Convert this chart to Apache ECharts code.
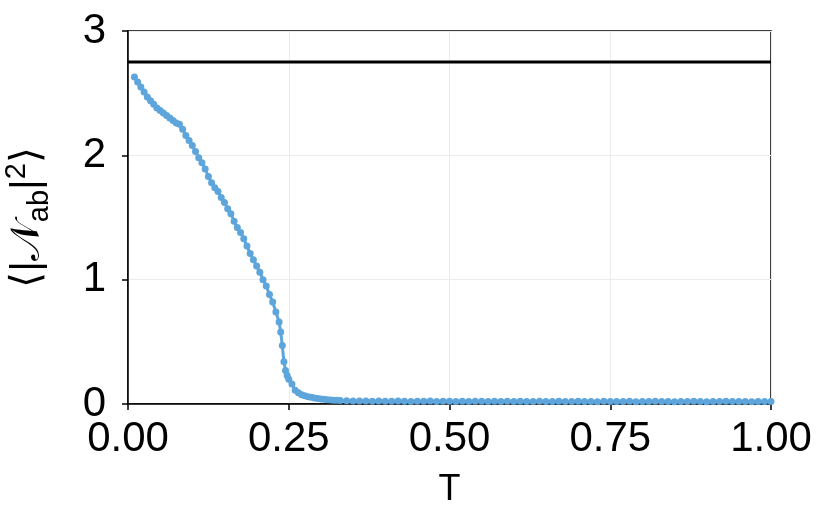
<!DOCTYPE html>
<html>
<head>
<meta charset="utf-8">
<script src="https://cdn.jsdelivr.net/npm/echarts@6/dist/echarts.min.js"></script>
<style>
html,body{margin:0;padding:0;background:#fff;}
#chart{width:830px;height:523px;}
</style>
</head>
<body>
<div id="chart"></div>
<script>
const temperature = [0.010,0.015,0.020,0.025,0.030,0.035,0.040,0.045,0.050,0.055,
  0.060,0.065,0.070,0.075,0.080,0.085,0.090,0.095,0.100,0.105,
  0.110,0.115,0.120,0.125,0.130,0.135,0.140,0.145,0.150,0.155,
  0.160,0.165,0.170,0.175,0.180,0.185,0.190,0.195,0.200,0.205,
  0.210,0.215,0.220,0.225,0.230,0.235,
  0.2375,0.240,0.2425,0.245,0.2475,0.250,
  0.255,0.260,0.265,0.270,0.275,0.280,0.285,0.290,0.295,0.300,0.305,0.310,0.315,0.320,0.325,0.330,
  0.340,0.350,
  0.36,0.37,0.38,0.39,0.40,0.41,0.42,0.43,0.44,0.45,
  0.46,0.47,0.48,0.49,0.50,0.51,0.52,0.53,0.54,0.55,
  0.56,0.57,0.58,0.59,0.60,0.61,0.62,0.63,0.64,0.65,
  0.66,0.67,0.68,0.69,0.70,0.71,0.72,0.73,0.74,0.75,
  0.76,0.77,0.78,0.79,0.80,0.81,0.82,0.83,0.84,0.85,
  0.86,0.87,0.88,0.89,0.90,0.91,0.92,0.93,0.94,0.95,
  0.96,0.97,0.98,0.99,1.00];

const nabSquared = [2.63,2.59,2.55,2.51,2.47,2.44,2.41,2.38,2.36,2.34,
  2.32,2.30,2.28,2.26,2.25,2.21,2.16,2.12,2.08,2.03,
  1.98,1.94,1.89,1.83,1.78,1.74,1.71,1.66,1.62,1.57,
  1.53,1.47,1.42,1.38,1.33,1.27,1.21,1.16,1.11,1.06,
  1.00,0.95,0.88,0.82,0.74,0.66,
  0.58,0.47,0.34,0.27,0.23,0.20,
  0.16,0.11,0.09,0.075,0.066,0.059,0.054,0.048,0.044,0.041,0.039,0.035,0.033,0.031,0.030,0.028,
  0.027,0.025,
  0.024,0.025,0.023,0.024,0.022,0.023,0.024,0.022,0.021,0.023,
  0.022,0.024,0.021,0.022,0.023,0.021,0.022,0.020,0.023,0.022,
  0.021,0.022,0.020,0.023,0.021,0.022,0.020,0.021,0.022,0.020,
  0.021,0.023,0.020,0.021,0.022,0.020,0.021,0.019,0.022,0.021,
  0.020,0.021,0.022,0.019,0.021,0.020,0.022,0.020,0.021,0.019,
  0.021,0.020,0.022,0.020,0.019,0.021,0.020,0.022,0.020,0.021,
  0.020,0.019,0.021,0.020,0.021];

const referenceLevel = 2.75;
const referenceSpan = [0, 1];

const xTicks = [0, 0.25, 0.5, 0.75, 1];
const yTicks = [0, 1, 2, 3];

const FONT = "'Liberation Sans', Arial, Helvetica, sans-serif";

const curveData = temperature.map((t, i) => [t, nabSquared[i]]);
const refData = referenceSpan.map(t => [t, referenceLevel]);

const chart = echarts.init(document.getElementById('chart'), null, {renderer: 'canvas'});
chart.setOption({
  animation: false,
  backgroundColor: '#ffffff',
  grid: {left: 128, right: 59, top: 31, bottom: 119, show: true, borderColor: '#000', borderWidth: 1.5,
    backgroundColor: 'transparent', containLabel: false, outerBoundsMode: 'none'},
  xAxis: {
    type: 'value', min: xTicks[0], max: xTicks[xTicks.length - 1], interval: 0.25,
    axisLine: {show: true, onZero: false, lineStyle: {color: '#000', width: 1.5}},
    axisTick: {show: true, inside: false, length: 6, lineStyle: {color: '#000', width: 1.5}},
    splitLine: {show: true, lineStyle: {color: '#ebebeb', width: 1}},
    axisLabel: {fontSize: 42, color: '#000', fontFamily: FONT, margin: 14,
      formatter: v => v.toFixed(2)},
    name: 'T', nameLocation: 'middle', nameGap: 68,
    nameTextStyle: {fontSize: 36, color: '#000', fontFamily: FONT}
  },
  yAxis: {
    type: 'value', min: yTicks[0], max: yTicks[yTicks.length - 1], interval: 1,
    axisLine: {show: true, onZero: false, lineStyle: {color: '#000', width: 1.5}},
    axisTick: {show: true, inside: false, length: 6, lineStyle: {color: '#000', width: 1.5}},
    splitLine: {show: true, lineStyle: {color: '#ebebeb', width: 1}},
    axisLabel: {fontSize: 42, color: '#000', fontFamily: FONT, margin: 22},
    name: '{b|⟨|}{n|𝒩}{s|ab}{b||}{p|2}{b|⟩}',
    nameLocation: 'middle', nameGap: 74, nameRotate: 90,
    nameTextStyle: {
      color: '#000', fontFamily: FONT,
      rich: {
        b: {fontSize: 41, fontFamily: FONT, color: '#000', lineHeight: 52, verticalAlign: 'middle'},
        n: {fontSize: 41, fontFamily: FONT, color: '#000', lineHeight: 52, verticalAlign: 'middle'},
        s: {fontSize: 29, fontFamily: FONT, color: '#000', lineHeight: 52, verticalAlign: 'bottom'},
        p: {fontSize: 29, fontFamily: FONT, color: '#000', lineHeight: 52, verticalAlign: 'top'}
      }
    }
  },
  series: [
    {
      type: 'line', data: curveData, symbol: 'circle', symbolSize: 7, showAllSymbol: true,
      itemStyle: {color: '#5DA5DA'}, lineStyle: {color: '#5DA5DA', width: 3},
      z: 3, silent: true, clip: false
    },
    {
      type: 'line', data: refData, symbol: 'none',
      lineStyle: {color: '#000', width: 3}, z: 4, silent: true
    }
  ]
});
</script>
</body>
</html>
